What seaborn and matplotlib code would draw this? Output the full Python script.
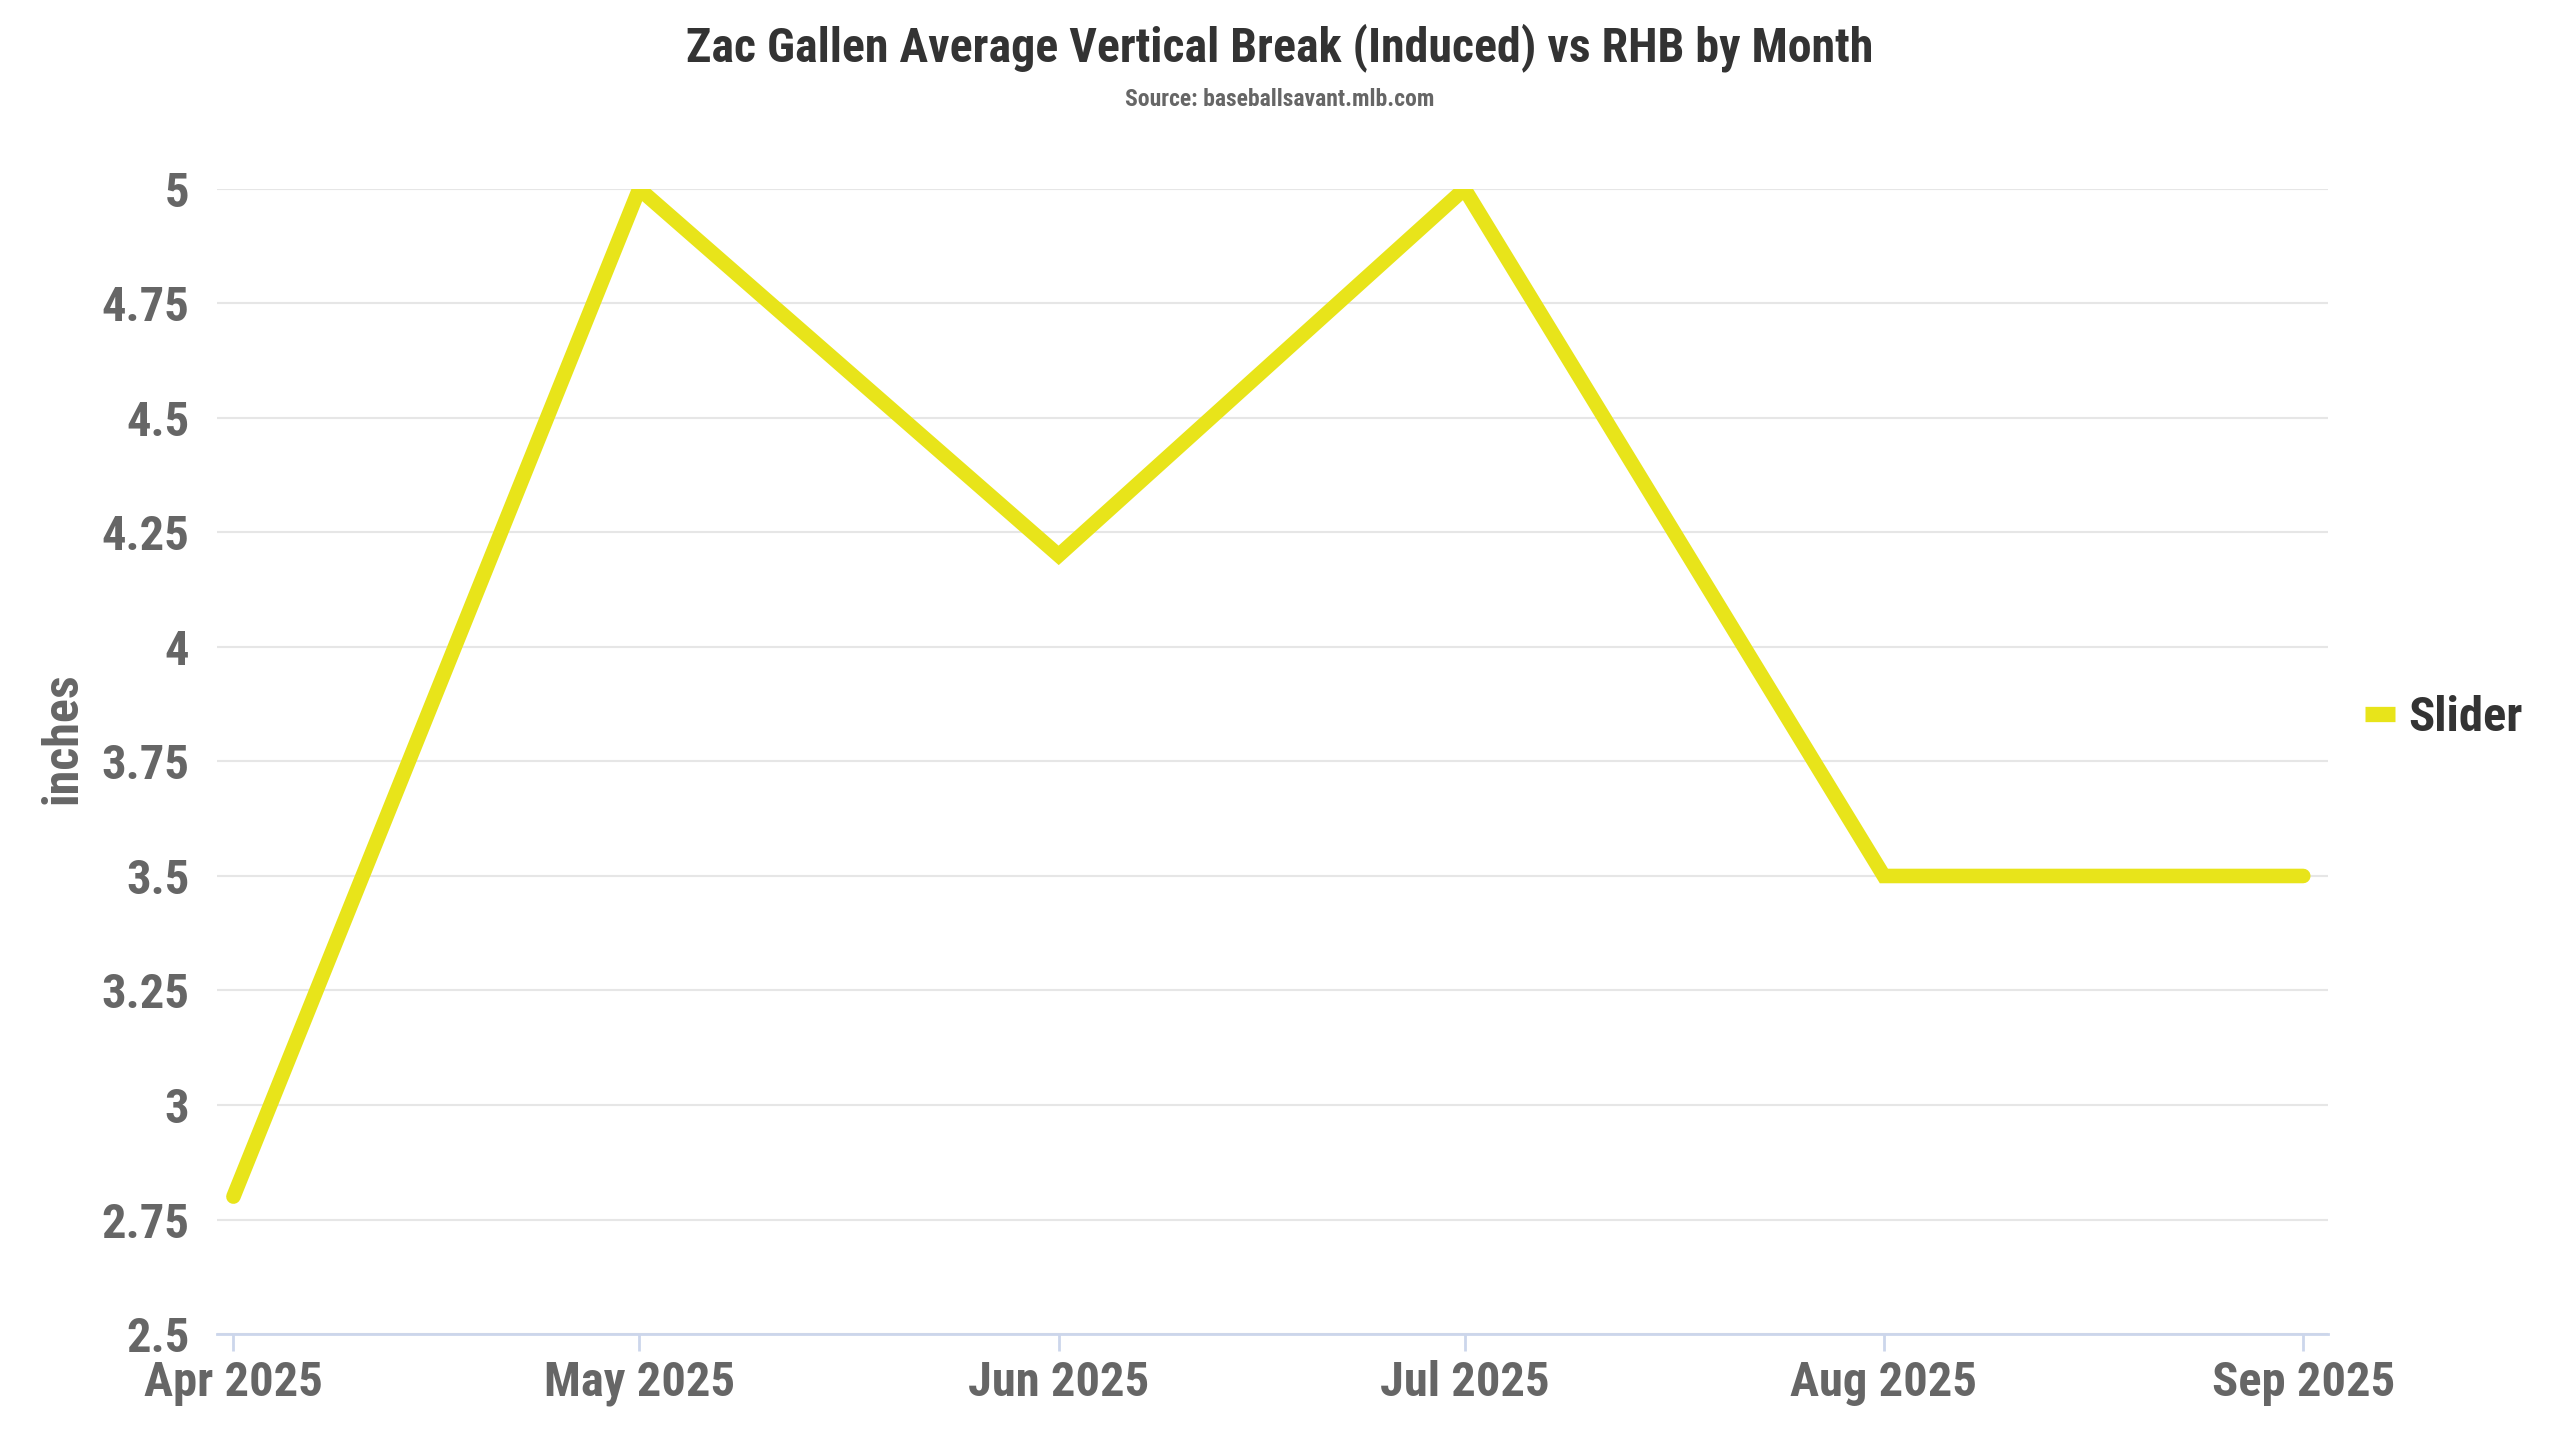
import matplotlib
matplotlib.use('Agg')
import matplotlib.pyplot as plt
import matplotlib.dates as mdates
from matplotlib import font_manager
import seaborn as sns
import pandas as pd

# data
months = ['2025-04-01', '2025-05-01', '2025-06-01', '2025-07-01', '2025-08-01', '2025-09-01']
slider_ivb = [2.8, 5.0, 4.2, 5.0, 3.5, 3.5]
y_ticks = [2.5, 2.75, 3, 3.25, 3.5, 3.75, 4, 4.25, 4.5, 4.75, 5]
y_tick_labels = ['2.5', '2.75', '3', '3.25', '3.5', '3.75', '4', '4.25', '4.5', '4.75', '5']

df = pd.DataFrame({'month': pd.to_datetime(months), 'ivb': slider_ivb, 'pitch': 'Slider'})

sns.set_theme(style='white')
names = {f.name for f in font_manager.fontManager.ttflist}
family = 'Roboto Condensed' if 'Roboto Condensed' in names else 'Roboto'
plt.rcParams['font.family'] = [family, 'DejaVu Sans']
plt.rcParams['font.weight'] = 'bold'

fig = plt.figure(figsize=(25.6, 14.4), dpi=100)
ax = fig.add_axes([0.0848, 0.0736, 0.8246, 0.7952])

sns.lineplot(data=df, x='month', y='ivb', hue='pitch', palette=['#e8e41a'],
             linewidth=10.5, solid_capstyle='round', solid_joinstyle='miter', ax=ax)

ax.set_ylim(2.5, 5.0)
ax.set_xlim(pd.Timestamp('2025-03-30 19:00'), pd.Timestamp('2025-09-02 20:00'))
ax.set_yticks(y_ticks)
ax.set_yticklabels(y_tick_labels)
ax.xaxis.set_major_locator(mdates.MonthLocator())
ax.xaxis.set_major_formatter(mdates.DateFormatter('%b %Y'))

ax.grid(axis='y', color='#e6e6e6', linewidth=1.5)
ax.grid(axis='x', visible=False)
for s in ['top', 'right', 'left']:
    ax.spines[s].set_visible(False)
ax.spines['bottom'].set_color('#ccd6eb')
ax.spines['bottom'].set_linewidth(2)
ax.tick_params(axis='y', length=0, pad=20, labelsize=35, labelcolor='#666666')
ax.tick_params(axis='x', length=12, width=2, color='#ccd6eb', pad=7,
               labelsize=35, labelcolor='#666666', bottom=True)
for lbl in ax.get_xticklabels() + ax.get_yticklabels():
    lbl.set_fontweight('bold')

ax.set_xlabel('')
ax.set_ylabel('inches', fontsize=36, color='#666666', fontweight='bold')
ax.yaxis.set_label_coords(-0.062, 0.52)

leg = ax.legend(loc='center left', bbox_to_anchor=(0.997, 0.538), frameon=False,
                fontsize=35, handlelength=0.6, handletextpad=0.28)
for t in leg.get_texts():
    t.set_color('#333333')
    t.set_fontweight('bold')
for h in leg.get_lines():
    h.set_linewidth(11)
    h.set_solid_capstyle('butt')

fig.text(0.5, 0.967, 'Zac Gallen Average Vertical Break (Induced) vs RHB by Month',
         ha='center', va='center', fontsize=34.5, color='#333333', fontweight='bold')
fig.text(0.5, 0.931, 'Source: baseballsavant.mlb.com',
         ha='center', va='center', fontsize=17, color='#666666', fontweight='bold')

fig.savefig('out.png', dpi=100, facecolor='white')
